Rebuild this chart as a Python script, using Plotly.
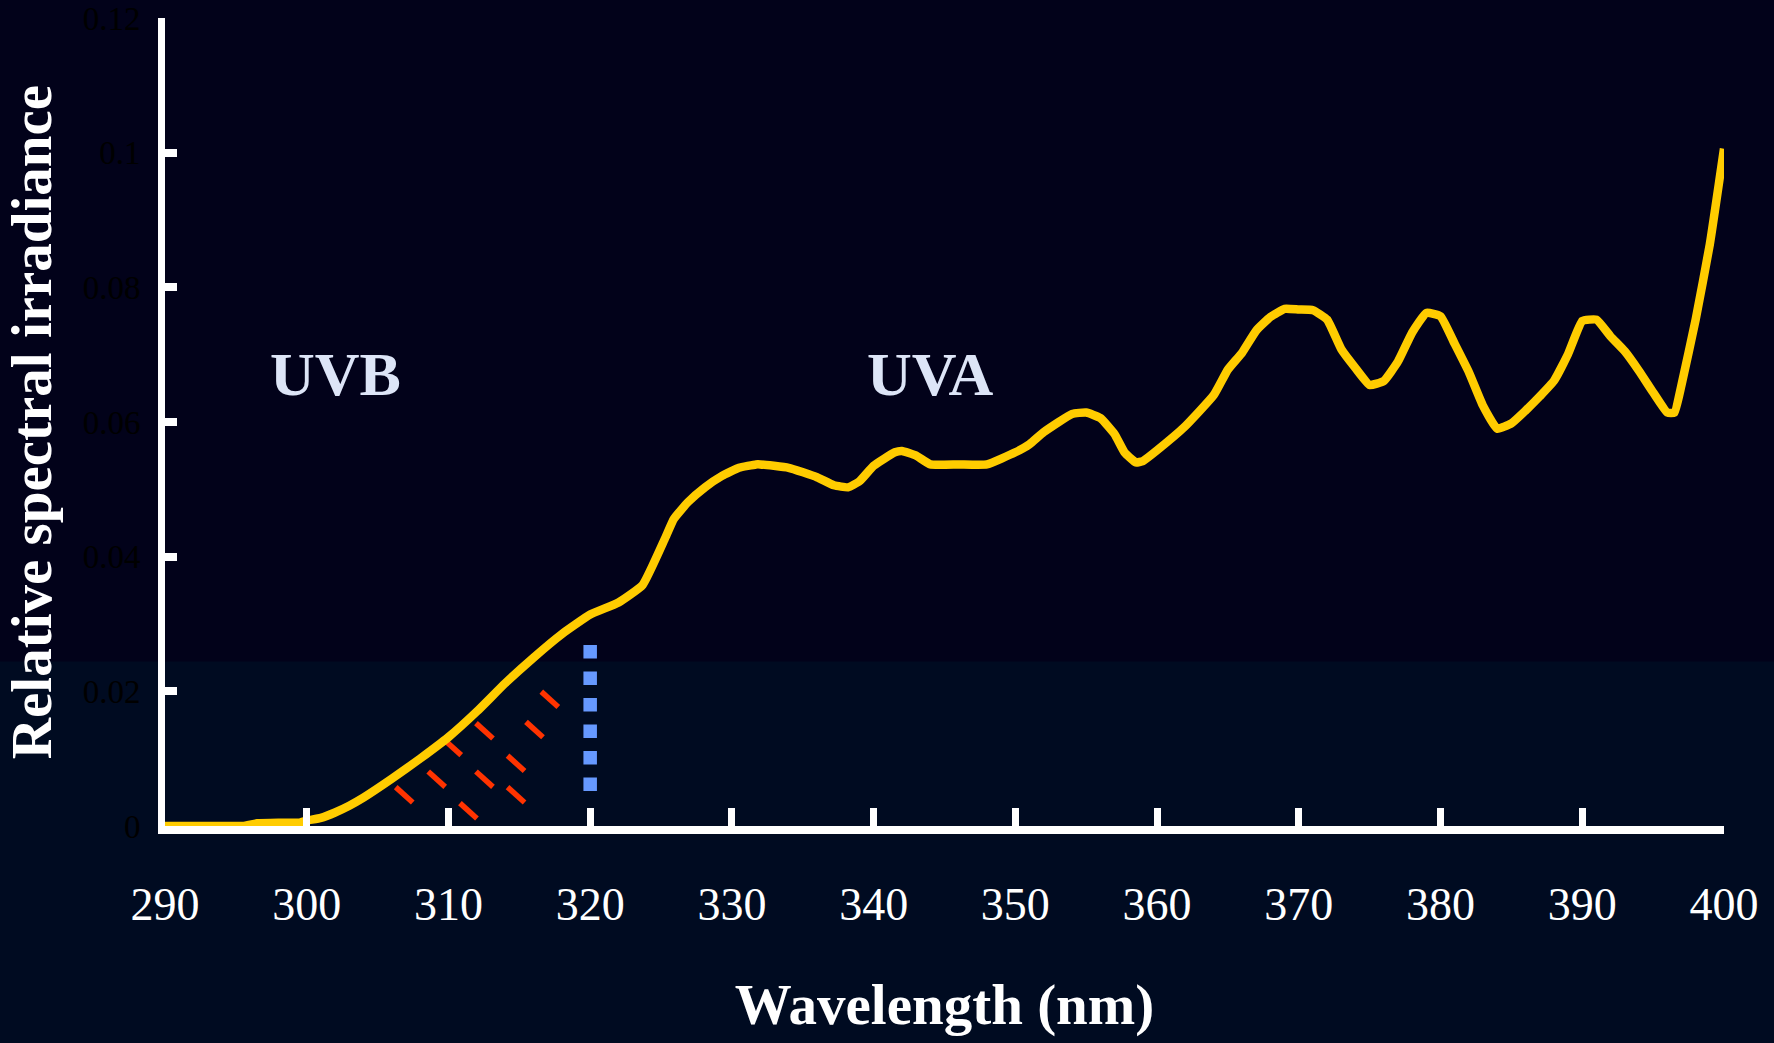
import plotly.graph_objects as go

# ---------------- data ----------------
wavelength = [290, 292, 294, 295.5, 296.5, 298, 299.5, 300, 301, 302, 303, 304, 306, 308, 310,
              312, 314, 316, 318, 320, 322, 323.7, 325.3, 325.9, 326.9, 328.1, 329.3, 330.5,
              331.7, 332, 334, 336, 337.2, 338.2, 339, 340, 341.5, 342, 343, 344, 346, 348,
              350, 351, 352, 354, 355, 356, 357, 357.7, 358.5, 359, 360, 362, 364, 365, 366,
              367, 368, 369, 370, 371, 372, 373, 374, 375, 376, 377, 378, 379, 380, 381, 382,
              383, 384, 385, 386, 387, 388, 389, 390, 391, 392, 393, 394, 395, 396, 396.5,
              397, 398, 399, 400]
irradiance = [0, 0, 0, 0, 0.0004, 0.0005, 0.0005, 0.0008, 0.0012, 0.0020, 0.0030, 0.0042,
              0.0070, 0.0100, 0.0132, 0.0170, 0.0212, 0.0250, 0.0285, 0.0314, 0.0332, 0.0358,
              0.0428, 0.0456, 0.0481, 0.0503, 0.0520, 0.0532, 0.0537, 0.0537, 0.0532, 0.0518,
              0.0506, 0.0503, 0.0512, 0.0535, 0.0555, 0.0557, 0.0550, 0.0537, 0.0537, 0.0537,
              0.0555, 0.0567, 0.0585, 0.0612, 0.0614, 0.0606, 0.0582, 0.0555, 0.0540, 0.0542,
              0.0558, 0.0594, 0.0640, 0.0678, 0.0703, 0.0736, 0.0756, 0.0768, 0.0767, 0.0766,
              0.0752, 0.0708, 0.0680, 0.0655, 0.0661, 0.0690, 0.0733, 0.0762, 0.0757, 0.0716,
              0.0674, 0.0624, 0.0590, 0.0598, 0.0617, 0.0638, 0.0661, 0.0701, 0.0750, 0.0752,
              0.0727, 0.0705, 0.0676, 0.0644, 0.0614, 0.0614, 0.0655, 0.0752, 0.0864, 0.1006]

x_ticks = [290, 300, 310, 320, 330, 340, 350, 360, 370, 380, 390, 400]
y_ticks = [0, 0.02, 0.04, 0.06, 0.08, 0.1, 0.12]
y_tick_labels = ["0", "0.02", "0.04", "0.06", "0.08", "0.1", "0.12"]

# centres of the red hatch dashes (wavelength, irradiance)
hatch_x = [306.88, 309.17, 310.30, 311.41, 312.54, 312.54, 314.77, 314.77, 316.07, 317.15]
hatch_y = [0.00463, 0.00695, 0.01167, 0.00226, 0.00695, 0.01414, 0.00931, 0.00463, 0.01433, 0.01882]

boundary_x = [320, 320]
boundary_y = [0.0052, 0.0270]

region_labels = ["UVB", "UVA"]
region_label_x = [302, 344]
region_label_y = [0.0672, 0.0672]

# ---------------- style ----------------
SERIF = "Liberation Serif, Times New Roman, serif"
DASH_DX = 0.6      # half extent of a hatch dash along x (nm)
DASH_DY = 0.00114  # half extent of a hatch dash along y
TOP_BG = "#02021A"
LOW_BG = "#000B21"

hx, hy = [], []
for cx, cy in zip(hatch_x, hatch_y):
    hx += [cx - DASH_DX, cx + DASH_DX, None]
    hy += [cy + DASH_DY, cy - DASH_DY, None]

fig = go.Figure()

fig.add_trace(go.Scatter(x=hx, y=hy, mode="lines",
                         line=dict(color="#FF3300", width=5.5),
                         hoverinfo="skip", showlegend=False))

fig.add_trace(go.Scatter(x=boundary_x, y=boundary_y, mode="lines",
                         line=dict(color="#6699FF", width=13.5, dash="13.5px,13px"),
                         hoverinfo="skip", showlegend=False))

fig.add_trace(go.Scatter(x=wavelength, y=irradiance, mode="lines",
                         line=dict(color="#FFCC00", width=8.5, shape="spline", smoothing=0.4),
                         showlegend=False))

for t, x, y in zip(region_labels, region_label_x, region_label_y):
    fig.add_annotation(x=x, y=y, text=t, showarrow=False,
                       font=dict(family=SERIF, size=62, color="#DDE5F7", weight="bold"))

# background bands
fig.add_shape(type="rect", xref="paper", yref="paper", x0=-0.2, x1=1.2, y0=-0.5, y1=0.2036,
              fillcolor=LOW_BG, line=dict(width=0), layer="below")

fig.update_layout(
    width=1774, height=1043, autosize=False,
    margin=dict(l=165, r=50, t=18, b=217, pad=0, autoexpand=False),
    paper_bgcolor=TOP_BG,
    plot_bgcolor="rgba(0,0,0,0)",
    showlegend=False,
    xaxis=dict(
        range=[290, 400], tickvals=x_ticks, ticktext=[str(v) for v in x_ticks],
        showgrid=False, zeroline=False, automargin=False,
        showline=True, linecolor="white", linewidth=8,
        ticks="inside", ticklen=18, tickwidth=7, tickcolor="white",
        tickfont=dict(family=SERIF, size=46, color="white"),
        ticklabelstandoff=31,
        title=dict(text="<b>Wavelength (nm)</b>", standoff=58,
                   font=dict(family=SERIF, size=57, color="white")),
    ),
    yaxis=dict(
        range=[0, 0.12], tickvals=y_ticks, ticktext=y_tick_labels,
        showgrid=False, zeroline=False, automargin=False,
        showline=True, linecolor="white", linewidth=7,
        ticks="inside", ticklen=12, tickwidth=8, tickcolor="white",
        tickfont=dict(family=SERIF, size=33, color="black"),
        ticklabelstandoff=11,
        title=dict(text="<b>Relative spectral irradiance</b>", standoff=16,
                   font=dict(family=SERIF, size=57, color="white")),
    ),
)

fig.write_html("out.html",
               config={"displayModeBar": False},
               post_script="document.body.style.margin='0';"
                           "document.body.style.overflow='hidden';"
                           "document.body.style.background='" + TOP_BG + "';")
